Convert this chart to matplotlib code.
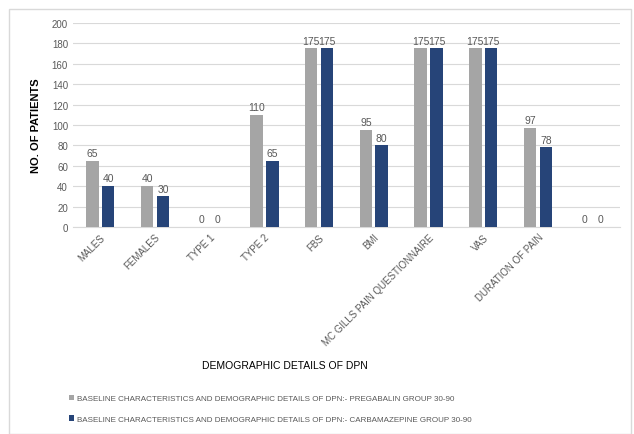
import matplotlib.pyplot as plt
import numpy as np
from matplotlib.patches import Rectangle

# Data
categories = ['MALES', 'FEMALES', 'TYPE 1', 'TYPE 2', 'FBS', 'BMI',
              'MC GILLS PAIN QUESTIONNAIRE', 'VAS', 'DURATION OF PAIN', '']
pregabalin = [65, 40, 0, 110, 175, 95, 175, 175, 97, 0]
carbamazepine = [40, 30, 0, 65, 175, 80, 175, 175, 78, 0]
series_names = [
    'BASELINE CHARACTERISTICS AND DEMOGRAPHIC DETAILS OF DPN:- PREGABALIN GROUP 30-90',
    'BASELINE CHARACTERISTICS AND DEMOGRAPHIC DETAILS OF DPN:- CARBAMAZEPINE GROUP 30-90',
]

plt.rcParams['font.family'] = ['Liberation Sans Narrow', 'Liberation Sans', 'DejaVu Sans']
text_col = '#595959'

fig = plt.figure(figsize=(6.34, 4.35), dpi=100)
fig.patches.append(Rectangle((0.014, 0.0), 0.982, 0.977, transform=fig.transFigure,
                             fill=False, edgecolor='#d9d9d9', linewidth=1))
ax = fig.add_axes([0.115, 0.476, 0.863, 0.469])

x = np.arange(len(categories))
w = 0.23
gap = 0.06
b1 = ax.bar(x - (w + gap) / 2, pregabalin, w, color='#a5a5a5', label=series_names[0], zorder=3)
b2 = ax.bar(x + (w + gap) / 2, carbamazepine, w, color='#264478', label=series_names[1], zorder=3)
ax.bar_label(b1, padding=2, fontsize=7.5, color=text_col)
ax.bar_label(b2, padding=2, fontsize=7.5, color=text_col)

ax.set_xlim(-0.5, len(categories) - 0.5)
ax.set_ylim(0, 200)
ax.set_yticks(range(0, 201, 20))
ax.grid(axis='y', color='#d9d9d9', linewidth=0.8, zorder=0)
for s in ['top', 'right', 'left']:
    ax.spines[s].set_visible(False)
ax.spines['bottom'].set_color('#d9d9d9')
ax.tick_params(length=0, labelsize=7, labelcolor=text_col)
ax.set_xticks(x)
ax.set_xticklabels(categories, rotation=45, ha='right', rotation_mode='anchor')

ax.set_ylabel('NO. OF PATIENTS', fontsize=8, color='black', fontweight='bold', labelpad=8)
fig.text(0.45, 0.158, 'DEMOGRAPHIC DETAILS OF DPN', ha='center', va='center', fontsize=7.5)

fig.legend(loc='upper left', bbox_to_anchor=(0.103, 0.098), frameon=False,
           fontsize=5.8, labelcolor=text_col, handlelength=0.7, handleheight=0.7,
           handletextpad=0.3, labelspacing=1.6, borderaxespad=0)

fig.savefig('out.png', dpi=100)
